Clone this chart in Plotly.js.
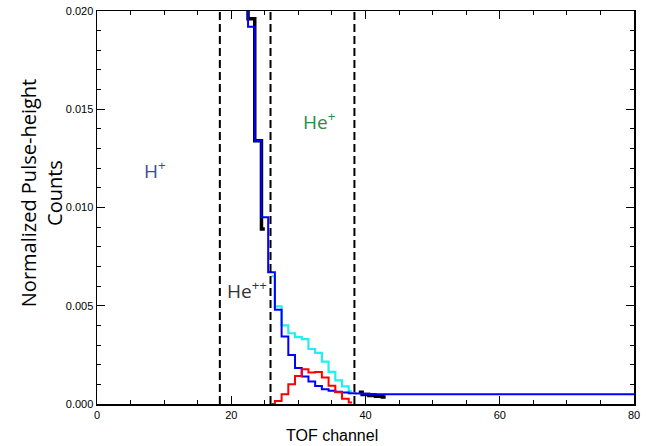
<!DOCTYPE html>
<html>
<head>
<meta charset="utf-8">
<script src="https://cdn.plot.ly/plotly-3.0.1.min.js"></script>
<style>html,body{margin:0;padding:0;background:#fff;}#chart{width:651px;height:446px;}</style>
</head>
<body>
<div id="chart"></div>
<script>
// TOF channels (bin centres) and normalized pulse-height counts
var blueChannels = [22,23,24,25,26,27,28,29,30,31,32,33,34,35,36,37,38,39,40,41,42,43,44,45,46,47,48,49,50,51,52,53,54,55,56,57,58,59,60,61,62,63,64,65,66,67,68,69,70,71,72,73,74,75,76,77,78,79,80];
var blueCounts = [0.028,0.0192,0.0134,0.0095,0.0067,0.0048,0.00343,0.0025,0.00183,0.0014,0.00114,0.00092,0.00075,0.00068,0.00062,0.00058,0.00055,0.00053,0.00052,0.00051,0.0005,0.0005,0.0005,0.0005,0.0005,0.0005,0.0005,0.0005,0.0005,0.0005,0.0005,0.0005,0.0005,0.0005,0.0005,0.0005,0.0005,0.0005,0.0005,0.0005,0.0005,0.0005,0.0005,0.0005,0.0005,0.0005,0.0005,0.0005,0.0005,0.0005,0.0005,0.0005,0.0005,0.0005,0.0005,0.0005,0.0005,0.0005,0.0005];
var cyanChannels = [26,27,28,29,30,31,32,33,34,35,36,37,38];
var cyanCounts = [0.0065,0.00497,0.004,0.0036,0.0034,0.0033,0.0028,0.0026,0.00216,0.00163,0.0012,0.0009,0.00065];
var redChannels = [26,27,28,29,30,31,32,33,34,35,36,37,38];
var redCounts = [0,0.00015,0.0005,0.001,0.00143,0.00177,0.0016,0.00163,0.00135,0.00093,0.0006,0.00027,0.00008];
var blackTopChannels = [22,23,24,25];
var blackTopCounts = [0.028,0.0196,0.0134,0.0089];
var blackTailChannels = [39,40,41,42,43];
var blackTailCounts = [0.0006,0.00048,0.00043,0.00039,0.00035];
// species boundaries (TOF channel)
var boundaries = [18.3, 25.85, 38.35];
var xTicks = [0,20,40,60,80];
var yTicks = [0,0.005,0.01,0.015,0.02];

function stepTrace(x, y, color, width) {
  return {x: x, y: y, type: 'scatter', mode: 'lines', line: {shape: 'hvh', color: color, width: width}, hoverinfo: 'skip', connectgaps: false};
}
var blackX = blackTopChannels.concat([null], blackTailChannels);
var blackY = blackTopCounts.concat([null], blackTailCounts);

var data = [
  stepTrace(blackX, blackY, '#000000', 3.5),
  stepTrace(cyanChannels, cyanCounts, '#22f0f0', 2.2),
  stepTrace(blueChannels, blueCounts, '#0000ff', 2),
  stepTrace(redChannels, redCounts, '#ff0000', 2)
];

var tickFont = {family: 'Liberation Sans, Arial, sans-serif', size: 11, color: '#000'};
var layout = {
  width: 651, height: 446,
  margin: {l: 97, r: 17, t: 11, b: 42},
  paper_bgcolor: '#fff', plot_bgcolor: '#fff',
  showlegend: false,
  xaxis: {
    range: [0, 80], tickvals: xTicks, ticktext: xTicks.map(String),
    ticks: 'inside', ticklen: 8, tickwidth: 1, tickcolor: '#000',
    mirror: 'allticks', showline: true, linewidth: 1.5, linecolor: '#000',
    showgrid: false, zeroline: false, tickfont: tickFont,
    minor: {ticks: 'inside', ticklen: 4, dtick: 5, tick0: 0, tickcolor: '#000', tickwidth: 1, showgrid: false}
  },
  yaxis: {
    range: [0, 0.02], tickvals: yTicks, ticktext: yTicks.map(function(v){return v.toFixed(3);}),
    ticks: 'inside', ticklen: 8, tickwidth: 1, tickcolor: '#000',
    mirror: 'allticks', showline: true, linewidth: 1.5, linecolor: '#000',
    showgrid: false, zeroline: false, tickfont: tickFont,
    minor: {ticks: 'inside', ticklen: 4, dtick: 0.001, tick0: 0, tickcolor: '#000', tickwidth: 1, showgrid: false}
  },
  shapes: boundaries.map(function(b){
    return {type: 'line', xref: 'x', yref: 'paper', x0: b, x1: b, y0: 0, y1: 1,
            line: {color: '#000', width: 2, dash: '8px,4px'}};
  }),
  annotations: [
    {text: 'H<sup>+</sup>', x: 8.6, y: 0.0119, xref: 'x', yref: 'y', showarrow: false,
     font: {family: 'Open Sans, sans-serif', size: 19, color: '#3a48a8'}},
    {text: 'He<sup>+</sup>', x: 33, y: 0.0144, xref: 'x', yref: 'y', showarrow: false,
     font: {family: 'Open Sans, sans-serif', size: 19, color: '#2a8a4a'}},
    {text: 'He<sup>++</sup>', x: 22.4, y: 0.0058, xref: 'x', yref: 'y', showarrow: false,
     font: {family: 'Open Sans, sans-serif', size: 19, color: '#333333'}},
    {text: 'Normalized Pulse-height<br>Counts', x: -0.102, y: 0.537, xref: 'paper', yref: 'paper',
     xanchor: 'center', yanchor: 'middle', textangle: -90, showarrow: false,
     font: {family: 'Open Sans, sans-serif', size: 20, color: '#000'}},
    {text: 'TOF channel', x: 0.437, y: -0.081, xref: 'paper', yref: 'paper',
     xanchor: 'center', yanchor: 'middle', showarrow: false,
     font: {family: 'Liberation Sans, Arial, sans-serif', size: 16, color: '#000'}}
  ]
};
Plotly.newPlot('chart', data, layout, {staticPlot: true, displayModeBar: false});
</script>
</body>
</html>
